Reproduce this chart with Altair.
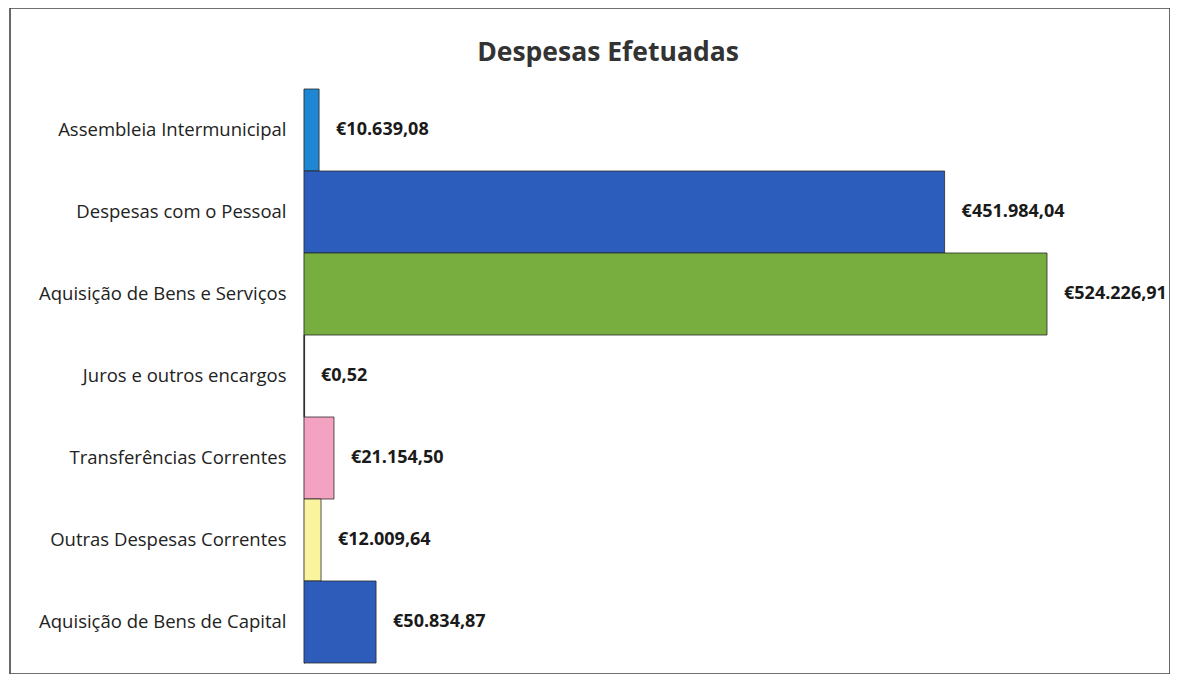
import altair as alt
import pandas as pd

categories = [
    "Assembleia Intermunicipal",
    "Despesas com o Pessoal",
    "Aquisição de Bens e Serviços",
    "Juros e outros encargos",
    "Transferências Correntes",
    "Outras Despesas Correntes",
    "Aquisição de Bens de Capital",
]
values = [10639.08, 451984.04, 524226.91, 0.52, 21154.50, 12009.64, 50834.87]
labels = ["€10.639,08", "€451.984,04", "€524.226,91", "€0,52",
          "€21.154,50", "€12.009,64", "€50.834,87"]
colors = ["#1f86d4", "#2c5dbd", "#78ad40", "#c0504d", "#f3a3c1", "#fbf49e", "#2d5cba"]

df = pd.DataFrame({"cat": categories, "val": values, "label": labels})

FONT = "Open Sans"

y = alt.Y("cat:N", sort=categories,
          scale=alt.Scale(range=[81, 655], paddingInner=0, paddingOuter=0),
          axis=alt.Axis(title=None, offset=-294, ticks=False, labelPadding=18,
                        labelFontSize=18.5, labelFont=FONT, labelColor="#222222",
                        domainColor="#444444", domainWidth=1.2, labelLimit=400))
x = alt.X("val:Q", scale=alt.Scale(domain=[0, 524226.91], range=[294, 1037]), axis=None)

bars = alt.Chart(df).mark_bar(stroke="#2a2a2a", strokeWidth=0.8).encode(
    x=x, y=y,
    color=alt.Color("cat:N", scale=alt.Scale(domain=categories, range=colors), legend=None),
)
text = alt.Chart(df).mark_text(align="left", baseline="middle", dx=17, fontSize=18,
                               fontWeight="bold", font=FONT, color="#1a1a1a").encode(
    x=x, y=alt.Y("cat:N", sort=categories), text="label:N"
)

chart = (bars + text).properties(
    width=1160, height=666,
    padding={"left": 2, "top": 0, "right": 0, "bottom": 0},
    title=alt.TitleParams("Despesas Efetuadas", fontSize=26.5, font=FONT, fontWeight="bold",
                          color="#333333", anchor="middle", offset=-58, dx=18),
).configure(background="white").configure_view(stroke="#444444", strokeWidth=1.6)

chart.save("out.html", embed_options={"renderer": "svg", "actions": False})
